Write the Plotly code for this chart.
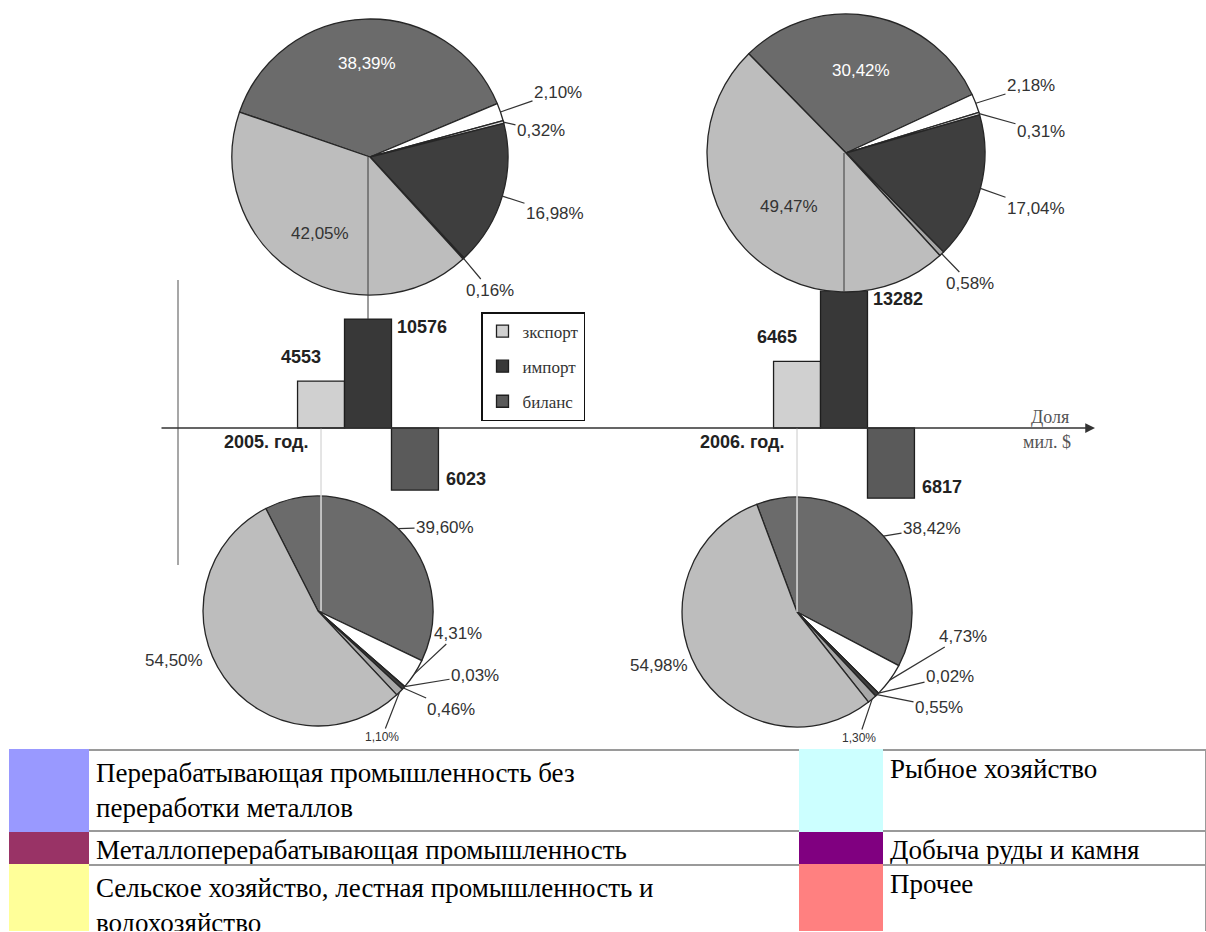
import math
import plotly.graph_objects as go

W, H = 1206, 932

# ---------------- data ----------------
years = [2005, 2006]
year_labels = ["2005. год.", "2006. год."]
bar_names = ["зкспорт", "импорт", "биланс"]
export_vals = [4553, 6465]
import_vals = [10576, 13282]
balance_vals = [e - i for e, i in zip(export_vals, import_vals)]  # export - import

sectors = [
    "Металлоперерабатывающая промышленность",
    "Сельское хозяйство, лестная промышленность и водохозяйство",
    "Рыбное хозяйство",
    "Добыча руды и камня",
    "Прочее",
    "Перерабатывающая промышленность без переработки металлов",
]
import_2005 = [38.39, 2.10, 0.32, 16.98, 0.16, 42.05]
import_2006 = [30.42, 2.18, 0.31, 17.04, 0.58, 49.47]
export_2005 = [39.60, 4.31, 0.03, 0.46, 1.10, 54.50]
export_2006 = [38.42, 4.73, 0.02, 0.55, 1.30, 54.98]

legend_left_labels = [
    "Перерабатывающая промышленность без<br>переработки металлов",
    "Металлоперерабатывающая промышленность",
    "Сельское хозяйство, лестная промышленность и<br>водохозяйство",
]
legend_left_colors = ["#9999ff", "#993366", "#ffff99"]
legend_right_labels = ["Рыбное хозяйство", "Добыча руды и камня", "Прочее"]
legend_right_colors = ["#ccffff", "#800080", "#ff8080"]

# ---------------- layout / style ----------------
SLICE_COLORS = ["#6b6b6b", "#ffffff", "#d9d9d9", "#3e3e3e", "#a8a8a8", "#bdbdbd"]
BAR_COLORS = ["#d0d0d0", "#383838", "#5a5a5a"]
SANS = "Liberation Sans, Arial, sans-serif"
SERIF = "Liberation Serif, Times New Roman, serif"

PX_PER_YEAR = 476.0
X2005_PX = 368.0
xmin = 2005 - X2005_PX / PX_PER_YEAR
xmax = xmin + W / PX_PER_YEAR
AXIS_Y_PX = 428.0
PX_PER_UNIT = 0.0103
ymax = AXIS_Y_PX / PX_PER_UNIT
ymin = -(H - AXIS_Y_PX) / PX_PER_UNIT
BARGAP = 0.704
bar_w = (1 - BARGAP) / 3.0


def xpx(xd):
    return (xd - xmin) / (xmax - xmin) * W


def ydata(py):
    return ymax - py / H * (ymax - ymin)


def fmt(v):
    return f"{v:.2f}%".replace(".", ",")


def ptext(px, py, text, font):
    return dict(x=px / W, y=1 - py / H, xref="paper", yref="paper", text=text,
                showarrow=False, xanchor="center", yanchor="middle", font=font)


fig = go.Figure()

# ---------------- bars ----------------
for name, vals, col, grp in zip(bar_names, [export_vals, import_vals, balance_vals], BAR_COLORS, ["a", "b", "c"]):
    fig.add_trace(go.Bar(
        x=years, y=vals, name=name, legendgroup=grp,
        marker=dict(color=col, line=dict(color="#1e1e1e", width=1.3)),
        hoverinfo="x+y",
    ))

# ---------------- pies ----------------
TOP_CY, TOP_R = 157.0, 138.0
BOT_CY, BOT_R = 611.0, 115.0
pies = [
    dict(vals=import_2005, cx=xpx(2005) + 2, cy=TOP_CY, r=TOP_R, rot=289,
         place=[("in", 0.68, "white"), ("out", 188, -65), ("out", 171, -26),
                ("out", 185, 56), ("out", 120, 133), ("in", 0.66, "#333")]),
    dict(vals=import_2006, cx=xpx(2006) + 2, cy=TOP_CY - 4, r=TOP_R + 1, rot=315.6,
         place=[("in", 0.6, "white"), ("out", 185, -67), ("out", 195, -22),
                ("out", 190, 55), ("out", 124, 130), ("in", 0.56, "#333")]),
    dict(vals=export_2005, cx=xpx(2005 - bar_w) - 3, cy=BOT_CY, r=BOT_R, rot=333,
         place=[("out", 127, -84), ("out", 140, 22), ("out", 157, 64),
                ("out", 133, 98), ("small", 64, 126), ("free", -144, 49)]),
    dict(vals=export_2006, cx=xpx(2006 - bar_w), cy=BOT_CY + 1, r=BOT_R, rot=339.5,
         place=[("out", 135, -84), ("out", 166, 24), ("out", 153, 64),
                ("out", 142, 95), ("small", 62, 126), ("free", -138, 53)]),
]

annotations = []
for p in pies:
    cx, cy, r = p["cx"], p["cy"], p["r"]
    fig.add_trace(go.Pie(
        values=p["vals"], labels=sectors, sort=False, direction="clockwise",
        rotation=p["rot"], textinfo="none", showlegend=False,
        hoverinfo="label+value",
        domain=dict(x=[(cx - r) / W, (cx + r) / W], y=[1 - (cy + r) / H, 1 - (cy - r) / H]),
        marker=dict(colors=SLICE_COLORS, line=dict(color="#262626", width=1.3)),
    ))
    total = sum(p["vals"])
    ang = p["rot"]
    for v, pl in zip(p["vals"], p["place"]):
        mid = math.radians(ang + v / total * 360.0 / 2)
        ang += v / total * 360.0
        ex, ey = cx + r * math.sin(mid), cy - r * math.cos(mid)
        kind = pl[0]
        if kind == "in":
            frac, col = pl[1], pl[2]
            tx, ty = cx + frac * r * math.sin(mid), cy - frac * r * math.cos(mid)
            annotations.append(ptext(tx, ty, fmt(v), dict(family=SANS, size=17, color=col)))
        elif kind == "free":
            annotations.append(ptext(cx + pl[1], cy + pl[2], fmt(v),
                                     dict(family=SANS, size=17, color="#333")))
        else:
            tx, ty = cx + pl[1], cy + pl[2]
            size = 12 if kind == "small" else 17
            annotations.append(dict(x=ex / W, y=1 - ey / H, xref="paper", yref="paper",
                                    text=fmt(v), showarrow=True, arrowhead=0,
                                    arrowwidth=1.2, arrowcolor="#333", standoff=0,
                                    ax=tx - ex, ay=ty - ey, axref="pixel", ayref="pixel",
                                    font=dict(family=SANS, size=size, color="#333")))

# ---------------- connectors ----------------
shapes = []
for i, yr in enumerate(years):
    shapes.append(dict(type="line", xref="x", yref="y", x0=yr, x1=yr,
                       y0=import_vals[i], y1=ydata(pies[i]["cy"]),
                       line=dict(color="#3a3a3a", width=1), layer="above"))
    shapes.append(dict(type="line", xref="x", yref="y", x0=yr - bar_w, x1=yr - bar_w,
                       y0=0, y1=ydata(pies[2 + i]["cy"]),
                       line=dict(color="#dcdcdc", width=1.5), layer="above"))
# vertical axis line
shapes.append(dict(type="line", xref="paper", yref="paper", x0=178 / W, x1=178 / W,
                   y0=1 - 280 / H, y1=1 - 565 / H, line=dict(color="#8a8a8a", width=1.5)))

# horizontal axis with arrow
annotations.append(dict(x=xmin + 1095 / W * (xmax - xmin), y=0, xref="x", yref="y",
                        ax=xmin + 160 / W * (xmax - xmin), ay=0, axref="x", ayref="y",
                        text="", showarrow=True, arrowhead=2, arrowsize=1.3,
                        arrowwidth=1.5, arrowcolor="#333", standoff=0))
annotations.append(ptext(1050, 417, "Доля", dict(family=SERIF, size=18, color="#555")))
annotations.append(ptext(1047, 442, "мил. $", dict(family=SERIF, size=18, color="#555")))

# bar value labels & year labels
bold = dict(family=SANS, size=18, color="#222")
for i, yr in enumerate(years):
    annotations.append(dict(x=yr - bar_w, y=export_vals[i], xref="x", yref="y",
                            text=f"<b>{export_vals[i]}</b>", showarrow=False,
                            xanchor="center", yanchor="middle",
                            xshift=-20, yshift=24, font=bold))
    annotations.append(dict(x=yr + bar_w / 2, y=import_vals[i], xref="x", yref="y",
                            text=f"<b>{import_vals[i]}</b>", showarrow=False,
                            xanchor="left", yanchor="middle", xshift=4, yshift=-8, font=bold))
    annotations.append(dict(x=yr + 1.5 * bar_w, y=balance_vals[i], xref="x", yref="y",
                            text=f"<b>{abs(balance_vals[i])}</b>", showarrow=False,
                            xanchor="left", yanchor="middle", xshift=6, yshift=11, font=bold))
    annotations.append(dict(x=yr, y=0, xref="x", yref="y",
                            text=f"<b>{year_labels[i]}</b>", showarrow=False,
                            xanchor="center", yanchor="middle",
                            xshift=-102, yshift=-14, font=bold))

# ---------------- legend table ----------------
GRID = "#9a9a9a"
TFONT = dict(family=SERIF, size=27, color="black")
fig.add_trace(go.Table(
    domain=dict(x=[10 / W, 1], y=[0, 1 - 750 / H]),
    columnorder=[1, 3, 0, 2],
    columnwidth=[712, 324, 78, 82],
    header=dict(
        values=[legend_left_labels[0], legend_right_labels[0], "", ""],
        fill=dict(color=["white", "white", legend_left_colors[0], legend_right_colors[0]]),
        line=dict(color=[GRID, GRID, legend_left_colors[0], legend_right_colors[0]], width=1.5),
        align="left", height=34, font=TFONT,
    ),
    cells=dict(
        values=[legend_left_labels[1:], legend_right_labels[1:], ["", ""], ["", ""]],
        fill=dict(color=[["white"] * 2, ["white"] * 2, legend_left_colors[1:], legend_right_colors[1:]]),
        line=dict(color=[[GRID] * 2, [GRID] * 2, legend_left_colors[1:], legend_right_colors[1:]], width=1.5),
        align="left", height=34, font=TFONT,
    ),
))

fig.update_layout(
    width=W, height=H, margin=dict(l=0, r=0, t=0, b=0),
    paper_bgcolor="white", plot_bgcolor="white",
    barmode="group", bargap=BARGAP, bargroupgap=0,
    xaxis=dict(range=[xmin, xmax], visible=False, domain=[0, 1]),
    yaxis=dict(range=[ymin, ymax], visible=False, domain=[0, 1]),
    showlegend=True,
    legend=dict(x=481 / W, y=1 - 312 / H, xanchor="left", yanchor="top",
                bgcolor="white", bordercolor="#111", borderwidth=1.5,
                font=dict(family=SERIF, size=17, color="#333"),
                tracegroupgap=10),
    shapes=shapes, annotations=annotations,
)

fig.write_html("out.html", config={"displayModeBar": False},
               post_script="document.body.style.margin='0px';")
